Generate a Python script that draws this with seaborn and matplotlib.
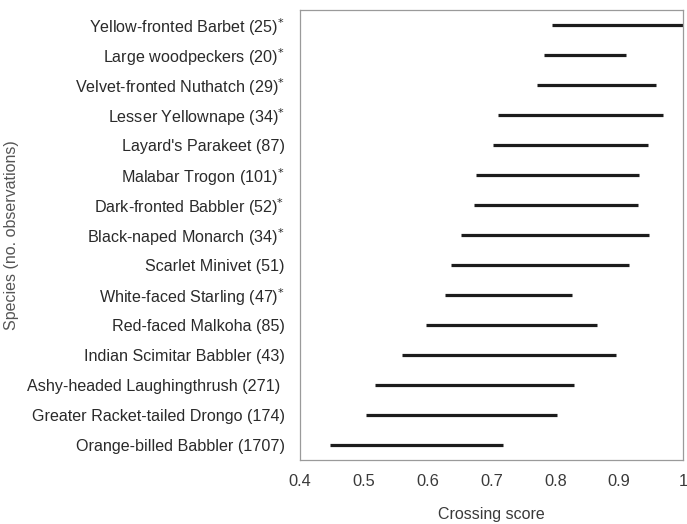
import matplotlib
matplotlib.use("Agg")
import matplotlib.pyplot as plt
import seaborn as sns
import pandas as pd

# Species labels (number of observations; * marks significant cases)
species = [
    "Yellow-fronted Barbet (25)*",
    "Large woodpeckers (20)*",
    "Velvet-fronted Nuthatch (29)*",
    "Lesser Yellownape (34)*",
    "Layard's Parakeet (87)",
    "Malabar Trogon (101)*",
    "Dark-fronted Babbler (52)*",
    "Black-naped Monarch (34)*",
    "Scarlet Minivet (51)",
    "White-faced Starling (47)*",
    "Red-faced Malkoha (85)",
    "Indian Scimitar Babbler (43)",
    "Ashy-headed Laughingthrush (271) ",
    "Greater Racket-tailed Drongo (174)",
    "Orange-billed Babbler (1707)",
]
score_low = [0.794, 0.783, 0.771, 0.710, 0.703, 0.675, 0.673, 0.653,
             0.637, 0.627, 0.597, 0.560, 0.518, 0.504, 0.447]
score_high = [1.000, 0.910, 0.957, 0.968, 0.945, 0.931, 0.930, 0.946,
              0.916, 0.826, 0.865, 0.895, 0.830, 0.803, 0.718]
x_ticks = [0.4, 0.5, 0.6, 0.7, 0.8, 0.9, 1.0]
x_tick_labels = ["0.4", "0.5", "0.6", "0.7", "0.8", "0.9", "1"]

sns.set_theme(style="white")
plt.rcParams["font.family"] = ["Liberation Sans", "DejaVu Sans"]

display_names = [s.replace("*", "$^{*}$") for s in species]
long = pd.DataFrame({
    "species": display_names * 2,
    "score": score_low + score_high,
})

W, H = 687, 524
left, right, top, bottom = 300, 683, 10, 460
fig = plt.figure(figsize=(W / 100, H / 100), dpi=100)
ax = fig.add_axes([left / W, 1 - bottom / H, (right - left) / W, (bottom - top) / H])

# Range of crossing scores per species: min-max interval of the two bounds
sns.pointplot(
    data=long, x="score", y="species", order=display_names,
    errorbar=("pi", 100), linestyle="none", markersize=0,
    color="#1c1c1c", err_kws={"linewidth": 2.3, "solid_capstyle": "butt"},
    capsize=0, ax=ax,
)

ax.set_xlim(0.4, 1.0)
ax.set_ylim(len(species) - 0.5, -0.5)
ax.set_xticks(x_ticks)
ax.set_xticklabels(x_tick_labels)
ax.tick_params(axis="x", length=0, pad=10, labelsize=11.8, colors="#3a3a3a")
ax.tick_params(axis="y", length=0, pad=11, labelsize=11.6, colors="#2a2a2a")

ax.set_xlabel("Crossing score", fontsize=11.5, color="#3a3a3a", labelpad=13)
ax.set_ylabel("Species (no. observations)", fontsize=11.5, color="#555555")
ax.yaxis.set_label_coords((19 - left) / (right - left), 0.5)

for sp in ax.spines.values():
    sp.set_color("#9a9a9a")
    sp.set_linewidth(0.9)

fig.savefig("out.png", dpi=100)
